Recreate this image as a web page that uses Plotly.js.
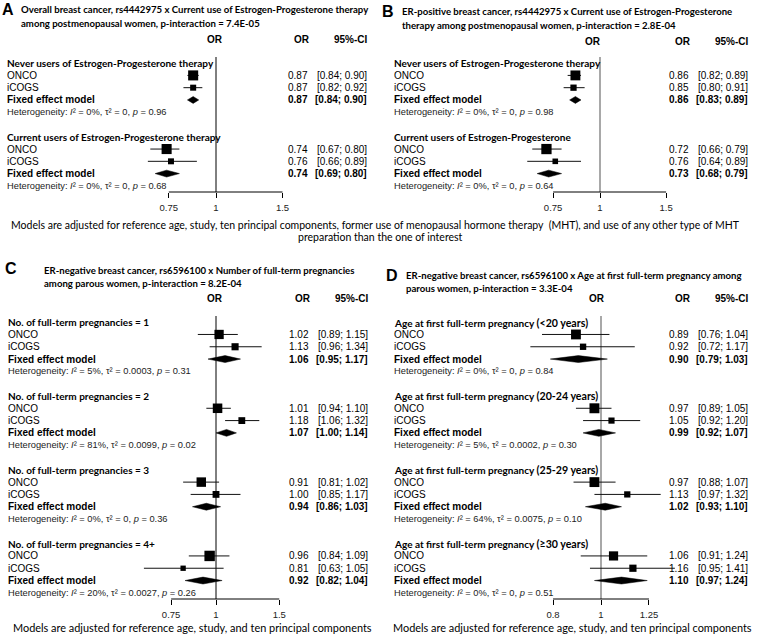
<!DOCTYPE html>
<html><head><meta charset="utf-8">
<script src="https://cdn.plot.ly/plotly-3.0.1.min.js"></script>
<style>html,body{margin:0;padding:0;background:#fff}</style>
</head><body><div id="chart" style="width:760px;height:636px"></div>
<script>
// ---------------- DATA ----------------
const studies = ["ONCO", "iCOGS"];

// Panel A
const A_title = ["Overall breast cancer, rs4442975 x Current use of Estrogen-Progesterone therapy",
                 "among postmenopausal women, p-interaction = 7.4E-05"];
const A_groups = ["Never users of Estrogen-Progesterone therapy", "Current users of Estrogen-Progesterone therapy"];
const A_or = [0.87, 0.87, 0.74, 0.76];
const A_lo = [0.84, 0.82, 0.67, 0.66];
const A_hi = [0.90, 0.92, 0.80, 0.89];
const A_fix_or = [0.87, 0.74];
const A_fix_lo = [0.84, 0.69];
const A_fix_hi = [0.90, 0.80];
const A_i2 = ["0%", "0%"];
const A_tau2 = ["0", "0"];
const A_p = ["0.96", "0.68"];
const A_ticks = [0.75, 1, 1.5];
const A_tickText = ["0.75", "1", "1.5"];

// Panel B
const B_title = ["ER-positive breast cancer, rs4442975 x Current use of Estrogen-Progesterone",
                 "therapy among postmenopausal women, p-interaction = 2.8E-04"];
const B_groups = ["Never users of Estrogen-Progesterone therapy", "Current users of Estrogen-Progesterone"];
const B_or = [0.86, 0.85, 0.72, 0.76];
const B_lo = [0.82, 0.80, 0.66, 0.64];
const B_hi = [0.89, 0.91, 0.79, 0.89];
const B_fix_or = [0.86, 0.73];
const B_fix_lo = [0.83, 0.68];
const B_fix_hi = [0.89, 0.79];
const B_i2 = ["0%", "0%"];
const B_tau2 = ["0", "0"];
const B_p = ["0.98", "0.64"];
const B_ticks = [0.75, 1, 1.5];
const B_tickText = ["0.75", "1", "1.5"];

// Panel C
const C_title = ["ER-negative breast cancer, rs6596100 x Number of full-term pregnancies",
                 "among parous women, p-interaction = 8.2E-04"];
const C_groups = ["No. of full-term pregnancies = 1", "No. of full-term pregnancies = 2",
                  "No. of full-term pregnancies = 3", "No. of full-term pregnancies = 4+"];
const C_or = [1.02, 1.13, 1.01, 1.18, 0.91, 1.00, 0.96, 0.81];
const C_lo = [0.89, 0.96, 0.94, 1.06, 0.81, 0.85, 0.84, 0.63];
const C_hi = [1.15, 1.34, 1.10, 1.32, 1.02, 1.17, 1.09, 1.05];
const C_fix_or = [1.06, 1.07, 0.94, 0.92];
const C_fix_lo = [0.95, 1.00, 0.86, 0.82];
const C_fix_hi = [1.17, 1.14, 1.03, 1.04];
const C_i2 = ["5%", "81%", "0%", "20%"];
const C_tau2 = ["0.0003", "0.0099", "0", "0.0027"];
const C_p = ["0.31", "0.02", "0.36", "0.26"];
const C_ticks = [0.75, 1, 1.5];
const C_tickText = ["0.75", "1", "1.5"];

// Panel D
const D_title = ["ER-negative breast cancer, rs6596100 x Age at first full-term pregnancy among",
                 "parous women, p-interaction = 3.3E-04"];
const D_groupMain = "Age at first full-term pregnancy";
const D_groupSub = ["(&lt;20 years)", "(20-24 years)", "(25-29 years)", "(≥30 years)"];
const D_or = [0.89, 0.92, 0.97, 1.05, 0.97, 1.13, 1.06, 1.16];
const D_lo = [0.76, 0.72, 0.89, 0.92, 0.88, 0.97, 0.91, 0.95];
const D_hi = [1.04, 1.17, 1.05, 1.20, 1.07, 1.32, 1.24, 1.41];
const D_fix_or = [0.90, 0.99, 1.02, 1.10];
const D_fix_lo = [0.79, 0.92, 0.93, 0.97];
const D_fix_hi = [1.03, 1.07, 1.10, 1.24];
const D_i2 = ["0%", "5%", "64%", "0%"];
const D_tau2 = ["0", "0.0002", "0.0075", "0"];
const D_p = ["0.84", "0.30", "0.10", "0.51"];
const D_ticks = [0.8, 1, 1.25];
const D_tickText = ["0.8", "1", "1.25"];

const footAB = ["Models are adjusted for reference age, study, ten principal components, former use of menopausal hormone therapy  (MHT), and use of any other type of MHT",
                "preparation than the one of interest"];
const footCD = "Models are adjusted for reference age, study, and ten principal components";

// ---------------- LAYOUT / STYLE ----------------
const W = 760, H = 636;
const px = v => v / W;
const py = v => 1 - v / H;
const SANS = "Liberation Sans, Arial, sans-serif";
const CAL = "Lato, Open Sans, sans-serif";
const BODY = 10, HET = 9.3;

// fit font sizes so that reference strings get their measured widths
const cv = document.createElement("canvas").getContext("2d");
function fitSize(text, family, weight, target) {
  cv.font = weight + " 100px " + family;
  return 100 * target / cv.measureText(text).width;
}
const CANVAS_CAL = "Lato, 'Open Sans', sans-serif";
const TITLE = fitSize(A_title[0], CANVAS_CAL, "bold", 348);
const LABEL = fitSize(A_groups[0], CANVAS_CAL, "bold", 207);
const FOOT_AB = fitSize(footAB[0], CANVAS_CAL, "normal", 730);
const FOOT_CD = fitSize(footCD, CANVAS_CAL, "normal", 359);
const SUB = fitSize("(25-29 years)", CANVAS_CAL, "bold", 62);

const panels = [
  {key:"A", n:"", letter:[8,10], title:A_title, tx:20, ty:[10,23],
   groups:A_groups.map(g=>g), or:A_or, lo:A_lo, hi:A_hi, fo:A_fix_or, fl:A_fix_lo, fh:A_fix_hi,
   i2:A_i2, tau2:A_tau2, p:A_p, ticks:A_ticks, tickText:A_tickText,
   one:216, kLn:164, dom:[120,300], top:57, bottom:192, labX:6, hdrX:215, orR:309, ciR:368, hdrY:40,
   refColor:"#000", refW:1},
  {key:"B", n:"2", letter:[388,11], title:B_title, tx:401, ty:[12,25],
   groups:B_groups.map(g=>g), or:B_or, lo:B_lo, hi:B_hi, fo:B_fix_or, fl:B_fix_lo, fh:B_fix_hi,
   i2:B_i2, tau2:B_tau2, p:B_p, ticks:B_ticks, tickText:B_tickText,
   one:600, kLn:163, dom:[500,690], top:57, bottom:192, labX:393, hdrX:593, orR:690, ciR:749, hdrY:41,
   refColor:"#a8a8a8", refW:2},
  {key:"C", n:"3", letter:[11,268], title:C_title, tx:43, ty:[270,283],
   groups:C_groups.map(g=>g), or:C_or, lo:C_lo, hi:C_hi, fo:C_fix_or, fl:C_fix_lo, fh:C_fix_hi,
   i2:C_i2, tau2:C_tau2, p:C_p, ticks:C_ticks, tickText:C_tickText,
   one:216, kLn:156, dom:[120,300], top:316, bottom:599, labX:7, hdrX:215, orR:310, ciR:369, hdrY:298,
   refColor:"#000", refW:1},
  {key:"D", n:"4", letter:[392,275], title:D_title, tx:405, ty:[275,288],
   groups:D_groupSub.map(s=>D_groupMain+' <span style="font-size:'+SUB.toFixed(2)+'px">'+s+'</span>'),
   or:D_or, lo:D_lo, hi:D_hi, fo:D_fix_or, fl:D_fix_lo, fh:D_fix_hi,
   i2:D_i2, tau2:D_tau2, p:D_p, ticks:D_ticks, tickText:D_tickText,
   one:601, kLn:215, dom:[500,690], top:316, bottom:599, labX:393, hdrX:597, orR:690, ciR:749, hdrY:298,
   refColor:"#a8a8a8", refW:2}
];

const traces = [], annotations = [], shapes = [];
const layout = {
  width: W, height: H, margin:{l:0,r:0,t:0,b:0},
  paper_bgcolor:"#fff", plot_bgcolor:"rgba(0,0,0,0)", showlegend:false,
  font:{family:SANS, size:BODY, color:"#000"}
};

function ann(o){ annotations.push(Object.assign({showarrow:false, borderpad:0, xref:"paper", yref:"paper",
  yanchor:"middle", font:{family:SANS, size:BODY, color:"#000"}}, o)); }
const ital = s => '<span style="font-style:italic;font-size:' + HET + 'px">' + s + '</span>';

panels.forEach(P => {
  const xa = "x"+P.n, ya = "y"+P.n;
  const nG = P.fo.length, nRows = nG*6 - 1;
  const dec = P.kLn * Math.LN10;
  layout["xaxis"+P.n] = {
    type:"log", domain:[px(P.dom[0]), px(P.dom[1])],
    range:[(P.dom[0]-P.one)/dec, (P.dom[1]-P.one)/dec],
    anchor:ya, showgrid:false, zeroline:false, showline:false,
    tickmode:"array", tickvals:P.ticks, ticktext:P.tickText,
    ticks:"outside", ticklen:5, tickwidth:1, tickcolor:"#000",
    ticklabelstandoff:2,
    tickfont:{family:SANS, size:9.5, color:"#222"}, fixedrange:true
  };
  layout["yaxis"+P.n] = {
    domain:[py(P.bottom), py(P.top)], range:[nRows-0.5, -0.5],
    anchor:xa, visible:false, fixedrange:true
  };

  // reference line at OR = 1 and axis base line
  shapes.push({type:"line", layer:"below", xref:xa, yref:ya+" domain", x0:1, x1:1, y0:0, y1:1,
               line:{color:P.refColor, width:P.refW}});
  shapes.push({type:"line", layer:"above", xref:xa, yref:ya+" domain",
               x0:P.ticks[0], x1:P.ticks[P.ticks.length-1], y0:0, y1:0, line:{color:"#000", width:1}});

  // study squares, sized by within-group inverse-variance weight
  const w = P.lo.map((l,i) => { const se = (Math.log(P.hi[i]) - Math.log(l))/(2*1.96); return 1/(se*se); });
  const sizes = w.map((wi,i) => { const g = Math.floor(i/2); const tot = w[2*g] + w[2*g+1];
                                   return 1.17*Math.sqrt(100*wi/tot); });
  const rows = P.or.map((_,i) => 6*Math.floor(i/2) + 1 + (i%2));
  traces.push({type:"scatter", mode:"markers", xaxis:xa, yaxis:ya, x:P.or, y:rows, hoverinfo:"skip",
    marker:{symbol:"square", size:sizes, color:"#000", opacity:1, line:{width:0}},
    error_x:{type:"data", symmetric:false, array:P.hi.map((h,i)=>h-P.or[i]),
             arrayminus:P.lo.map((l,i)=>P.or[i]-l), width:0, thickness:1, color:"#111"}});

  // fixed-effect diamonds
  const dx = [], dy = [], hh = 0.28;
  P.fo.forEach((o,g) => { const r = 6*g + 3;
    dx.push(P.fl[g], o, P.fh[g], o, P.fl[g], null);
    dy.push(r, r-hh, r, r+hh, r, null); });
  traces.push({type:"scatter", mode:"lines", xaxis:xa, yaxis:ya, x:dx, y:dy, fill:"toself",
    fillcolor:"#000", line:{color:"#000", width:0.5}, hoverinfo:"skip"});

  // panel letter and title
  ann({x:px(P.letter[0]), y:py(P.letter[1]), xanchor:"center", text:"<b>"+P.key+"</b>",
       font:{family:SANS, size:16, color:"#000"}});
  P.title.forEach((t,k) => ann({x:px(P.tx), y:py(P.ty[k]), xanchor:"left", text:"<b>"+t+"</b>",
       font:{family:CAL, size:TITLE, color:"#000"}}));

  // column headers
  ann({x:px(P.hdrX), y:py(P.hdrY), xanchor:"center", text:"<b>OR</b>"});
  ann({x:px(P.orR+2), y:py(P.hdrY), xanchor:"right", text:"<b>OR</b>"});
  ann({x:px(P.ciR+1), y:py(P.hdrY), xanchor:"right", text:"<b>95%-CI</b>"});

  const f2 = v => v.toFixed(2);
  P.groups.forEach((gname,g) => {
    const r0 = 6*g;
    ann({yref:ya, y:r0, x:px(P.labX), xanchor:"left", text:"<b>"+gname+"</b>",
         font:{family:CAL, size:LABEL, color:"#000"}});
    studies.forEach((s,k) => {
      const i = 2*g + k;
      ann({yref:ya, y:r0+1+k, x:px(P.labX), xanchor:"left", text:s});
      ann({yref:ya, y:r0+1+k, x:px(P.orR), xanchor:"right", text:f2(P.or[i])});
      ann({yref:ya, y:r0+1+k, x:px(P.ciR), xanchor:"right", text:"["+f2(P.lo[i])+"; "+f2(P.hi[i])+"]"});
    });
    ann({yref:ya, y:r0+3, x:px(P.labX), xanchor:"left", text:"<b>Fixed effect model</b>"});
    ann({yref:ya, y:r0+3, x:px(P.orR), xanchor:"right", text:"<b>"+f2(P.fo[g])+"</b>"});
    ann({yref:ya, y:r0+3, x:px(P.ciR), xanchor:"right", text:"<b>["+f2(P.fl[g])+"; "+f2(P.fh[g])+"]</b>"});
    ann({yref:ya, y:r0+4, x:px(P.labX), xanchor:"left",
         text:"Heterogeneity: "+ital("I")+"² = "+P.i2[g]+", τ² = "+P.tau2[g]+", "+ital("p")+" = "+P.p[g],
         font:{family:SANS, size:HET, color:"#222"}});
  });
});

// footers
ann({x:px(375), y:py(225), xanchor:"center", text:footAB[0], font:{family:CAL, size:FOOT_AB, color:"#000"}});
ann({x:px(380), y:py(237), xanchor:"center", text:footAB[1], font:{family:CAL, size:FOOT_AB, color:"#000"}});
ann({x:px(192), y:py(627), xanchor:"center", text:footCD, font:{family:CAL, size:FOOT_CD, color:"#000"}});
ann({x:px(572), y:py(627), xanchor:"center", text:footCD, font:{family:CAL, size:FOOT_CD, color:"#000"}});

layout.annotations = annotations;
layout.shapes = shapes;
Plotly.newPlot("chart", traces, layout, {displayModeBar:false, staticPlot:true});
</script>
</body></html>
